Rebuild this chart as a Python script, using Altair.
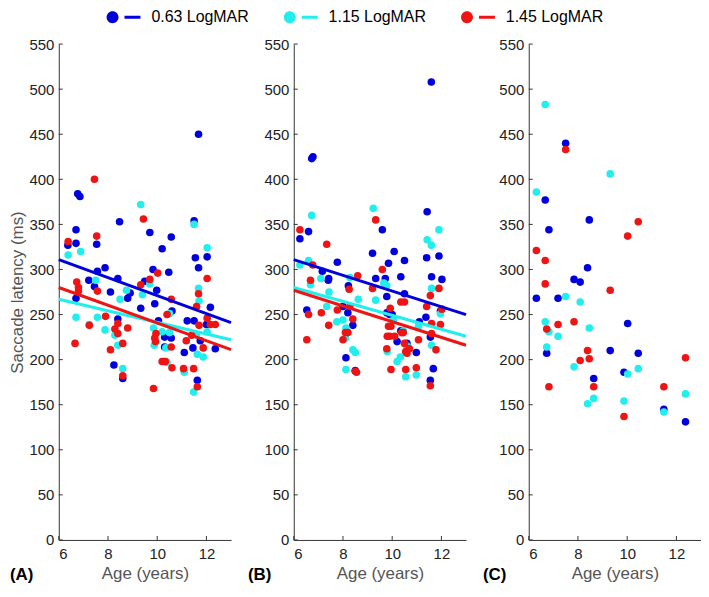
import altair as alt
import pandas as pd

GROUPS = ["0.63 LogMAR", "1.15 LogMAR", "1.45 LogMAR"]
COLORS = ["#0000dc", "#22eeee", "#ee1414"]
PANELS = ["A", "B", "C"]
PANEL_LABELS = ["(A)", "(B)", "(C)"]
X_TICKS = [6, 8, 10, 12]
Y_TICKS = list(range(0, 551, 50))

# ---- Panel A ----
A_BLUE_AGE = [6.37, 6.70, 6.70, 6.70, 6.77, 6.86, 7.22, 7.45, 7.54, 7.57, 7.88, 8.10, 8.24, 8.40, 8.40, 8.47,
              8.60, 8.80, 8.90, 9.33, 9.49, 9.70, 9.83, 9.90, 9.98, 10.05, 10.20, 10.30, 10.30, 10.47, 10.57,
              10.57, 10.60, 11.10, 11.22, 11.45, 11.50, 11.50, 11.55, 11.63, 11.68, 11.68, 11.75, 12.00, 12.03,
              12.16, 12.36]
A_BLUE_LAT = [327, 329, 344, 268, 384, 381, 288, 281, 328, 298, 302, 275, 194, 290, 245, 353,
              179, 268, 274, 257, 287, 341, 300, 262, 277, 243, 323, 225, 214, 297, 336,
              224, 254, 208, 243, 213, 243, 354, 313, 177, 302, 450, 221, 239, 314,
              258, 212]
A_CYAN_AGE = [6.38, 6.70, 6.89, 7.24, 7.50, 7.57, 7.88, 8.28, 8.40, 8.49, 8.60, 8.75, 9.33, 9.40, 9.70, 9.85,
              9.88, 10.20, 10.35, 10.40, 10.50, 10.50, 11.10, 11.48, 11.50, 11.60, 11.63, 11.68, 11.70, 11.87,
              12.03, 12.03]
A_CYAN_LAT = [316, 247, 320, 239, 288, 247, 233, 227, 216, 267, 190, 277, 372, 272, 284, 235,
              216, 231, 213, 197, 230, 251, 186, 164, 350, 227, 206, 279, 265, 203,
              324, 231]
A_RED_AGE = [6.38, 6.66, 6.73, 6.80, 6.80, 7.24, 7.45, 7.54, 7.57, 7.90, 8.10, 8.28, 8.40, 8.40, 8.60, 8.60,
             8.80, 9.33, 9.44, 9.70, 9.85, 9.90, 9.93, 9.95, 10.02, 10.20, 10.27, 10.33, 10.40, 10.57, 10.57,
             10.60, 11.07, 11.18, 11.40, 11.48, 11.60, 11.63, 11.68, 11.70, 11.87, 12.03, 12.03, 12.16, 12.36]
A_RED_LAT = [331, 218, 286, 280, 276, 238, 400, 337, 276, 248, 211, 234, 240, 229, 218, 182,
             235, 283, 356, 289, 168, 224, 220, 229, 296, 198, 198, 198, 250, 267, 214,
             191, 190, 221, 227, 190, 259, 170, 273, 238, 213, 290, 246, 239, 239]

# ---- Panel B ----
B_BLUE_AGE = [6.25, 6.53, 6.60, 6.73, 6.78, 7.16, 7.40, 7.42, 7.77, 8.00, 8.12, 8.20, 8.22, 8.40, 8.50, 9.20,
              9.33, 9.60, 9.72, 9.78, 9.78, 9.85, 9.90, 10.00, 10.08, 10.20, 10.35, 10.35, 10.50, 10.50, 10.60,
              10.98, 11.10, 11.37, 11.40, 11.42, 11.55, 11.55, 11.59, 11.60, 11.67, 11.90, 11.96, 12.02]
B_BLUE_LAT = [334, 255, 342, 423, 425, 298, 288, 290, 308, 259, 202, 252, 282, 238, 188, 318,
              290, 344, 290, 270, 252, 307, 250, 250, 320, 220, 292, 232, 310, 273, 218,
              208, 242, 247, 313, 364, 225, 177, 508, 292, 190, 315, 254, 289]
B_CYAN_AGE = [6.25, 6.60, 6.68, 6.73, 7.10, 7.34, 7.43, 7.75, 8.00, 8.10, 8.12, 8.12, 8.28, 8.40, 8.50, 8.62,
              9.23, 9.33, 9.66, 9.78, 9.80, 10.05, 10.20, 10.33, 10.45, 10.55, 10.60, 10.98, 11.07, 11.42,
              11.59, 11.60, 11.60, 11.90, 11.96]
B_CYAN_LAT = [305, 310, 283, 360, 290, 259, 275, 242, 244, 224, 235, 189, 291, 211, 208, 267,
              368, 266, 285, 282, 209, 244, 198, 203, 232, 181, 215, 183, 237, 333,
              327, 279, 216, 344, 251]
B_RED_AGE = [6.25, 6.53, 6.60, 6.68, 6.77, 7.12, 7.34, 7.42, 7.77, 8.00, 8.10, 8.20, 8.25, 8.28, 8.40, 8.50,
             8.55, 8.60, 9.20, 9.33, 9.60, 9.78, 9.80, 9.85, 9.90, 9.92, 9.95, 9.95, 10.10, 10.35, 10.38,
             10.45, 10.50, 10.50, 10.55, 10.55, 10.60, 10.70, 10.98, 11.07, 11.40, 11.55, 11.55, 11.60, 11.60,
             11.78, 11.90, 11.96, 12.02]
B_RED_LAT = [344, 222, 250, 288, 305, 252, 328, 238, 255, 222, 230, 230, 278, 259, 245, 187,
             186, 293, 279, 355, 300, 212, 226, 237, 226, 257, 237, 189, 226, 264, 230,
             230, 264, 218, 209, 189, 207, 212, 191, 222, 259, 271, 171, 240, 229,
             211, 279, 239, 256]

# ---- Panel C ----
C_BLUE_AGE = [6.31, 6.67, 6.73, 6.82, 7.19, 7.50, 7.84, 8.09, 8.39, 8.46, 8.64, 9.31, 9.87, 10.02, 10.45,
              11.49, 12.37]
C_BLUE_LAT = [268, 377, 207, 344, 268, 440, 289, 286, 302, 355, 179, 210, 186, 240, 207, 145, 131]
C_CYAN_AGE = [6.31, 6.67, 6.67, 6.73, 6.82, 7.19, 7.50, 7.84, 8.09, 8.39, 8.46, 8.64, 9.31, 9.87, 10.02,
              10.45, 11.49, 12.37]
C_CYAN_LAT = [386, 483, 242, 214, 231, 226, 270, 192, 264, 151, 235, 157, 406, 154, 184, 190, 142, 162]
C_RED_AGE = [6.31, 6.67, 6.67, 6.73, 6.82, 7.19, 7.50, 7.84, 8.09, 8.39, 8.46, 8.64, 9.31, 9.87, 10.02,
             10.45, 11.49, 12.37]
C_RED_LAT = [321, 310, 284, 234, 170, 239, 433, 242, 199, 210, 201, 170, 277, 137, 337, 353, 170, 202]

# ---- Regression lines (latency at age 6 and age 13) ----
FIT_AGE = [6, 13]
A_FIT = {"0.63 LogMAR": [311, 241], "1.15 LogMAR": [267, 222], "1.45 LogMAR": [280, 211]}
B_FIT = {"0.63 LogMAR": [311, 250], "1.15 LogMAR": [280, 226], "1.45 LogMAR": [277, 216]}
FITS = {"A": A_FIT, "B": B_FIT}

SERIES = {
    "A": [(A_BLUE_AGE, A_BLUE_LAT), (A_CYAN_AGE, A_CYAN_LAT), (A_RED_AGE, A_RED_LAT)],
    "B": [(B_BLUE_AGE, B_BLUE_LAT), (B_CYAN_AGE, B_CYAN_LAT), (B_RED_AGE, B_RED_LAT)],
    "C": [(C_BLUE_AGE, C_BLUE_LAT), (C_CYAN_AGE, C_CYAN_LAT), (C_RED_AGE, C_RED_LAT)],
}

W, H = 173, 498
FONT = "Liberation Sans"
LEGEND_SYMBOL = ("M -1 0 A 1 1 0 1 0 1 0 A 1 1 0 1 0 -1 0 Z "
                 "M 2.0 -0.25 L 4.67 -0.25 L 4.67 0.25 L 2.0 0.25 Z")

xscale = alt.Scale(domain=[6, 13], nice=False, zero=False)
yscale = alt.Scale(domain=[0, 550], nice=False, zero=False)
cscale = alt.Scale(domain=GROUPS, range=COLORS)


def make_panel(key, label, first):
    rows = []
    for g, (ages, lats) in zip(GROUPS, SERIES[key]):
        for a, v in zip(ages, lats):
            rows.append({"age": a, "lat": v, "group": g, "o": GROUPS.index(g)})
    pts = pd.DataFrame(rows)

    xaxis = alt.Axis(values=X_TICKS, title="Age (years)", ticks=False, grid=False,
                     labelPadding=7, titlePadding=4, labelFontSize=15, titleFontSize=17,
                     labelColor="#222", titleColor="#555", titleFontWeight="normal",
                     domainColor="#333", labelFont=FONT, titleFont=FONT)
    if first:
        yaxis = alt.Axis(values=Y_TICKS, title="Saccade latency (ms)",
                         ticks=False, grid=False, labelPadding=5, titlePadding=2,
                         labelFontSize=15, titleFontSize=17, labelColor="#222", titleColor="#555",
                         titleFontWeight="normal", domainColor="#333", labelFont=FONT, titleFont=FONT)
    else:
        yaxis = alt.Axis(values=Y_TICKS, title=None, ticks=False, grid=False, labelPadding=5,
                         labelFontSize=15, labelColor="#222", domainColor="#333", labelFont=FONT)

    def X(field):
        return alt.X(f"{field}:Q", scale=xscale, axis=xaxis)

    def Y(field):
        return alt.Y(f"{field}:Q", scale=yscale, axis=yaxis)

    if first:
        legend = alt.Legend(title=None, orient="none", legendX=46, legendY=-35,
                            direction="horizontal", symbolType=LEGEND_SYMBOL, symbolSize=144,
                            symbolStrokeWidth=0, symbolOpacity=1, labelOffset=31,
                            columnPadding=33, labelFontSize=16, labelFont=FONT,
                            labelColor="#000")
        color = alt.Color("group:N", scale=cscale, legend=legend)
    else:
        color = alt.Color("group:N", scale=cscale)

    points = alt.Chart(pts).mark_circle(size=58, opacity=1).encode(
        x=X("age"), y=Y("lat"), color=color, order=alt.Order("o:Q"),
    )
    layers = [points]

    if key in FITS:
        frows = []
        for g in GROUPS:
            for a, v in zip(FIT_AGE, FITS[key][g]):
                frows.append({"age": a, "lat": v, "group": g})
        lines = alt.Chart(pd.DataFrame(frows)).mark_line(strokeWidth=3).encode(
            x=X("age"), y=Y("lat"), color=alt.Color("group:N", scale=cscale), detail="group:N",
        )
        layers.append(lines)

    yt = alt.Chart(pd.DataFrame({"lat": Y_TICKS})).mark_rule(color="#333", strokeWidth=1).encode(
        y=Y("lat"), x=alt.value(0), x2=alt.value(4))
    xt = alt.Chart(pd.DataFrame({"age": X_TICKS})).mark_rule(color="#333", strokeWidth=1).encode(
        x=X("age"), y=alt.value(H - 4), y2=alt.value(H))
    txt = alt.Chart(pd.DataFrame({"t": [label]})).mark_text(
        align="left", baseline="middle", fontSize=17, fontWeight="bold", font=FONT, color="#000"
    ).encode(text="t:N", x=alt.value(-49 if first else -46), y=alt.value(H + 35))
    layers += [yt, xt, txt]
    return alt.layer(*layers).properties(width=W, height=H)


chart = alt.hconcat(
    *[make_panel(k, l, i == 0) for i, (k, l) in enumerate(zip(PANELS, PANEL_LABELS))],
    spacing=11,
).properties(padding=0).configure_view(stroke=None)

chart.save("out.html", embed_options={"renderer": "svg", "actions": False})
